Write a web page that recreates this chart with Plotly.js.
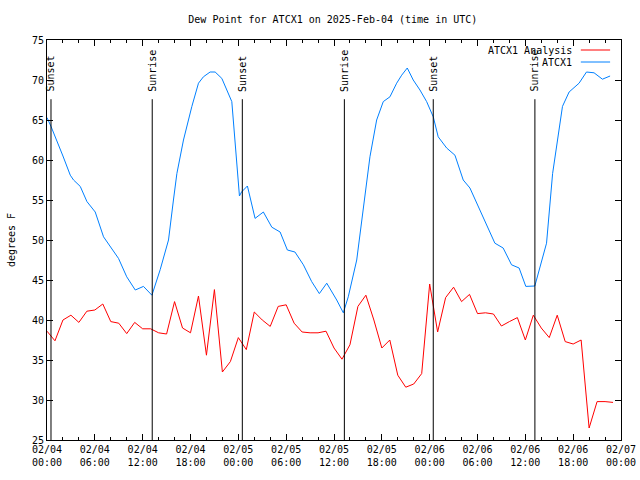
<!DOCTYPE html>
<html>
<head>
<meta charset="utf-8">
<script src="https://cdn.plot.ly/plotly-3.0.1.min.js"></script>
<style>html,body{margin:0;padding:0;background:#fff}#chart{width:640px;height:480px}</style>
</head>
<body>
<div id="chart"></div>
<script>
// Start of the time axis: 2025-02-04 00:00 UTC
var startDate = "2025-02-04";
// ATCX1 Analysis: hourly values from 02/04 00:00 (hour 0 .. 71)
var analysisValues = [
  38.6, 37.4, 40.0, 40.6, 39.7, 41.1, 41.25, 42.0, 39.8, 39.6, 38.3, 39.7,
  38.9, 38.9, 38.4, 38.25, 42.3, 39.0, 38.4, 43.0, 35.6, 43.8, 33.5, 34.8,
  37.8, 36.3, 41.0, 40.0, 39.2, 41.7, 41.9, 39.6, 38.5, 38.4, 38.4, 38.6,
  36.5, 35.1, 36.9, 41.7, 43.1, 40.0, 36.5, 37.5, 33.1, 31.6, 32.0, 33.3,
  44.5, 38.5, 42.8, 44.1, 42.3, 43.2, 40.8, 40.9, 40.75, 39.25, 39.8, 40.3,
  37.5, 40.6, 39.0, 37.8, 40.6, 37.3, 37.0, 37.5, 26.5, 29.8, 29.8, 29.7
];
// ATCX1 observations: hours since 02/04 00:00 and dew point (F)
var obsHours = [
  0.0, 0.5, 2.0, 2.92, 3.33, 4.17, 5.01, 6.05, 7.09, 7.93, 8.97, 10.0,
  11.07, 12.1, 13.16, 14.2, 15.24, 15.86, 16.29, 17.12, 18.17, 19.0, 19.62, 20.46,
  21.09, 21.93, 22.56, 23.18, 24.14, 24.4, 25.14, 26.1, 27.14, 28.2, 29.24, 30.15,
  31.1, 32.16, 33.2, 34.16, 35.09, 36.34, 37.17, 37.79, 38.85, 39.67, 40.51, 41.35,
  42.18, 43.02, 43.86, 44.49, 45.19, 45.94, 46.78, 47.62, 48.45, 49.07, 50.13, 51.17,
  52.21, 53.05, 54.09, 55.14, 56.18, 57.22, 58.27, 59.22, 60.06, 61.19, 61.82, 62.66,
  63.42, 64.05, 64.66, 65.49, 66.74, 67.67, 68.62, 69.67, 70.63
];
var obsValues = [
  65.3, 64.2, 60.5, 58.1, 57.5, 56.7, 54.8, 53.5, 50.4, 49.2, 47.7, 45.4,
  43.75, 44.2, 43.1, 46.3, 50.0, 55.0, 58.3, 62.5, 66.7, 69.6, 70.4, 71.0,
  71.0, 70.2, 68.75, 67.3, 55.5, 56.0, 56.75, 52.7, 53.5, 51.6, 51.0, 48.75,
  48.5, 46.9, 44.8, 43.3, 44.6, 42.5, 40.9, 42.9, 47.5, 54.0, 60.4, 65.0,
  67.3, 67.9, 69.6, 70.6, 71.5, 70.0, 68.75, 67.3, 65.4, 62.9, 61.5, 60.6,
  57.5, 56.5, 54.2, 52.1, 49.6, 49.0, 46.9, 46.5, 44.2, 44.25, 46.5, 49.6,
  58.3, 62.5, 66.7, 68.5, 69.6, 71.0, 70.9, 70.1, 70.5
];
// Sunrise / sunset events (hours since 02/04 00:00)
var sunHours = [0.5, 13.2, 24.5, 37.3, 48.45, 61.2];
var sunLabels = ["Sunset", "Sunrise", "Sunset", "Sunrise", "Sunset", "Sunrise"];
var seriesNames = ["ATCX1 Analysis", "ATCX1"];
var seriesColors = ["#ff0000", "#0080ff"];

var HOUR = 3600000;
var t0 = Date.parse(startDate + "T00:00:00Z");
function toTime(h) { return t0 + h * HOUR; }

var analysisX = analysisValues.map(function (v, i) { return toTime(i); });
var obsX = obsHours.map(toTime);

var font = "DejaVu Sans Mono, monospace";

var traces = [
  {x: analysisX, y: analysisValues, type: "scatter", mode: "lines", name: seriesNames[0],
   line: {color: seriesColors[0], width: 1}},
  {x: obsX, y: obsValues, type: "scatter", mode: "lines", name: seriesNames[1],
   line: {color: seriesColors[1], width: 1}}
];

var shapes = [];
var annotations = [];
sunHours.forEach(function (h, i) {
  shapes.push({type: "line", xref: "x", yref: "y", x0: toTime(h), x1: toTime(h), y0: 25, y1: 67.6,
               line: {color: "#000", width: 1}});
  annotations.push({x: toTime(h), y: 68.3, xref: "x", yref: "y", text: sunLabels[i], showarrow: false,
                    textangle: -90, xanchor: "center", yanchor: "bottom",
                    font: {family: font, size: 10, color: "#000"}});
});
// legend in gnuplot style (text then sample line)
var legY = [0.975, 0.945];
seriesNames.forEach(function (n, i) {
  annotations.push({x: 0.918, y: legY[i], xref: "paper", yref: "paper", text: n, showarrow: false,
                    xanchor: "right", yanchor: "middle", font: {family: font, size: 10, color: "#000"}});
  shapes.push({type: "line", xref: "paper", yref: "paper", x0: 0.930, x1: 0.981, y0: legY[i], y1: legY[i],
               line: {color: seriesColors[i], width: 1}});
});

var layout = {
  width: 640, height: 480,
  margin: {l: 47, r: 19, t: 40, b: 40, pad: 0},
  paper_bgcolor: "#fff", plot_bgcolor: "#fff",
  showlegend: false,
  font: {family: font, size: 10, color: "#000"},
  title: {text: "Dew Point for ATCX1 on 2025-Feb-04 (time in UTC)", x: 0.52, xanchor: "center",
          y: 0.96, yanchor: "middle", font: {family: font, size: 10, color: "#000"}},
  xaxis: {type: "date", range: [toTime(0), toTime(72)], dtick: 6 * HOUR, tick0: toTime(0),
          tickformat: "%m/%d<br>%H:%M", ticks: "inside", ticklen: 6, tickcolor: "#000",
          minor: {dtick: 2 * HOUR, ticks: "inside", ticklen: 3, tickcolor: "#000"},
          showline: true, linecolor: "#000", linewidth: 1, mirror: "ticks", showgrid: false,
          zeroline: false, tickfont: {family: font, size: 10, color: "#000"}},
  yaxis: {range: [25, 75], dtick: 5, ticks: "inside", ticklen: 6, tickcolor: "#000",
          showline: true, linecolor: "#000", linewidth: 1, mirror: "ticks", showgrid: false,
          zeroline: false, tickfont: {family: font, size: 10, color: "#000"},
          title: {text: "degrees F", standoff: 14, font: {family: font, size: 10, color: "#000"}}},
  shapes: shapes,
  annotations: annotations
};

Plotly.newPlot("chart", traces, layout, {staticPlot: true, displayModeBar: false});
</script>
</body>
</html>
